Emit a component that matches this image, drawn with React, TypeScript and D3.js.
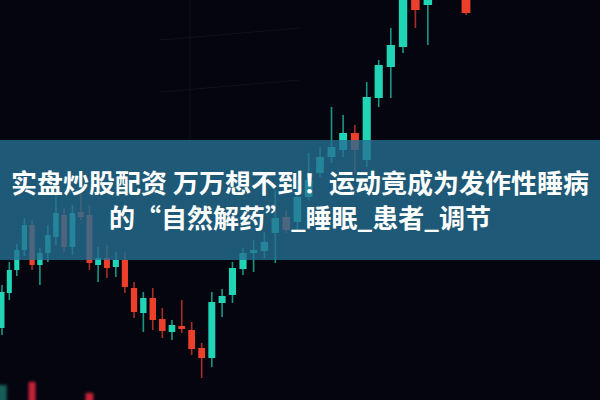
import React from "react";
import * as d3 from "d3";

// Candlestick values (price units)
const opens = [72, 107, 130, 150, 175, 135, 147, 163, 185, 153, 188, 185, 135, 142, 133, 140, 112, 87, 102, 81, 68, 74, 70, 52, 42, 97, 105, 131, 147, 149, 167, 183, 178, 203, 227, 243, 250, 267, 240, 302, 333, 353, 410, 395, 440, 460, 410];
const closes = [108, 130, 150, 175, 135, 147, 165, 187, 153, 187, 183, 137, 142, 132, 140, 113, 88, 102, 80, 69, 75, 71, 51, 42, 98, 104, 132, 147, 150, 158, 182, 170, 203, 220, 243, 253, 267, 250, 303, 335, 355, 410, 390, 410, 470, 440, 387];
const highs = [115, 138, 156, 182, 180, 152, 175, 205, 192, 195, 208, 195, 153, 155, 148, 148, 118, 108, 112, 92, 80, 100, 78, 57, 108, 111, 138, 152, 160, 168, 210, 190, 220, 247, 253, 293, 285, 275, 318, 340, 372, 420, 415, 420, 480, 470, 420];
const lows = [65, 100, 124, 144, 130, 115, 138, 155, 148, 145, 180, 130, 118, 122, 123, 107, 82, 68, 70, 62, 60, 67, 45, 22, 33, 83, 97, 125, 128, 142, 137, 167, 170, 200, 223, 237, 243, 227, 233, 293, 302, 347, 372, 355, 430, 430, 385];

// Blurred candles of a lower layer, peeking in at the bottom edge
const ghostIndex = [0, 4, 11];
const ghostOpen = [-30, 18, 7];
const ghostClose = [15, -30, -30];

const titleLines = ["实盘炒股配资 万万想不到！运动竟成为发作性睡病", "的“自然解药”_睡眠_患者_调节"];

const W = 600;
const H = 400;
const GREEN = "#22d4b6";
const RED = "#ec3f2c";

const warp = (i: number) => i + 0.0084 * i * i;
const n = opens.length;
const xLin = d3.scaleLinear().domain([0, warp(n - 1)]).range([2, 466]);
const x = (i: number) => xLin(warp(i));
const y = d3.scaleLinear().domain([0, 400]).range([H, 0]);

export default function App() {
  const candles = d3.range(n).map((i) => {
    const o = opens[i];
    const c = closes[i];
    const up = c >= o;
    const cx = x(i);
    const step = x(i + 0.5) - x(i - 0.5);
    const bw = step * 0.68;
    const top = y(Math.max(o, c));
    const bot = y(Math.min(o, c));
    const col = up ? GREEN : RED;
    return (
      <g key={i}>
        <line x1={cx} x2={cx} y1={y(highs[i])} y2={y(lows[i])} stroke={col} strokeWidth={1.6} strokeOpacity={0.7} />
        <rect x={cx - bw / 2} y={top} width={bw} height={Math.max(bot - top, 2)} fill={col} />
      </g>
    );
  });

  const ghosts = ghostIndex.map((gi, k) => {
    const o = ghostOpen[k];
    const c = ghostClose[k];
    const up = c >= o;
    const cx = x(gi);
    const step = x(gi + 0.5) - x(gi - 0.5);
    const bw = step * (k === 0 ? 1.3 : 0.9);
    const top = y(Math.max(o, c));
    const bot = y(Math.min(o, c));
    return (
      <rect key={k} x={cx - bw / 2} y={top} width={bw} height={bot - top} fill={up ? "#145f5a" : "#c8243a"} />
    );
  });

  return (
    <svg width={W} height={H} style={{ position: "fixed", left: 0, top: 0, display: "block" }}>
      <defs>
        <filter id="soft" x="-10%" y="-10%" width="120%" height="120%">
          <feGaussianBlur stdDeviation={0.6} />
        </filter>
        <filter id="blur2" x="-50%" y="-50%" width="200%" height="200%">
          <feGaussianBlur stdDeviation={1.6} />
        </filter>
      </defs>
      <rect width={W} height={H} fill="#04050e" />
      <g stroke="#ffffff" strokeOpacity={0.05} strokeWidth={1}>
        <line x1={160} y1={40} x2={300} y2={28} />
        <line x1={160} y1={92} x2={300} y2={80} />
        <line x1={190} y1={0} x2={190} y2={140} />
      </g>
      <g filter="url(#blur2)">{ghosts}</g>
      <g filter="url(#soft)">{candles}</g>
      <rect x={0} y={140} width={W} height={120} fill="#266f92" fillOpacity={0.8} />
      <g
        fontFamily="'Noto Sans CJK SC', 'Noto Sans', sans-serif"
        fontWeight={700}
        fontSize={26}
        fill="#ffffff"
        textAnchor="middle"
      >
        {titleLines.map((t, i) => (
          <text key={i} x={W / 2} y={193 + i * 35}>
            {t}
          </text>
        ))}
      </g>
    </svg>
  );
}
